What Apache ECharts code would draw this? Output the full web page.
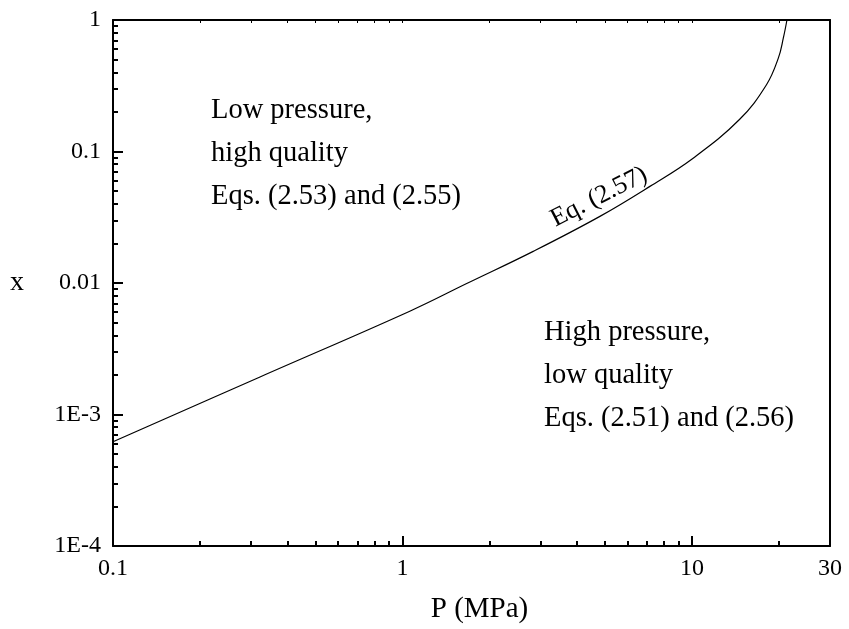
<!DOCTYPE html>
<html>
<head>
<meta charset="utf-8">
<script src="https://cdn.jsdelivr.net/npm/echarts@6/dist/echarts.min.js"></script>
<style>html,body{margin:0;padding:0;background:#fff;}#c{width:849px;height:629px;}</style>
</head>
<body>
<div id="c"></div>
<script>
// ---- data ----
const pressure = [0.1, 0.322, 1.06, 1.667, 2.83, 4.81, 7.16, 10.1, 14.6, 18.1, 19.9, 20.7, 21.3];
const quality  = [6.2e-4, 1.93e-3, 6.1e-3, 9.9e-3, 0.0174, 0.0321, 0.0543, 0.089, 0.175, 0.322, 0.515, 0.73, 1.0];

const xTickValues = [0.1, 1, 10, 30];
const xTickLabels = ['0.1', '1', '10', '30'];
const xMajorTicks = [0.1, 1, 10];
const xMinorTicks = [0.2,0.3,0.4,0.5,0.6,0.7,0.8,0.9,2,3,4,5,6,7,8,9,20];

const yTickValues = [1e-4, 1e-3, 0.01, 0.1, 1];
const yTickLabels = ['1E-4', '1E-3', '0.01', '0.1', '1'];
const yMinorTicks = [];
[1e-4, 1e-3, 0.01, 0.1].forEach(d => { for (let k = 2; k <= 9; k++) yMinorTicks.push(d * k); });

const xMin = 0.1, xMax = 30, yMin = 1e-4, yMax = 1;

// ---- build ----
const L = v => Math.log10(v);
const FONT = 'Liberation Serif';
const gridRect = { left: 113, top: 20, width: 717, height: 526 };

function labelFor(values, labels) {
  return function (v) {
    let best = 0, bd = Infinity;
    values.forEach((t, i) => { const d = Math.abs(L(t) - v); if (d < bd) { bd = d; best = i; } });
    return labels[best];
  };
}

const lineStyle = { color: '#000', width: 2 };

const option = {
  backgroundColor: '#fff',
  animation: false,
  grid: [
    Object.assign({}, gridRect),
    Object.assign({}, gridRect),
    Object.assign({}, gridRect)
  ],
  xAxis: [
    { type: 'log', logBase: 10, gridIndex: 0, min: xMin, max: xMax, show: false },
    { type: 'value', gridIndex: 1, position: 'bottom', min: L(xMin), max: L(xMax),
      axisLine: { show: true, onZero: false, lineStyle: lineStyle },
      axisTick: { show: true, inside: true, length: 10, lineStyle: { color: '#000', width: 2 },
                  customValues: xMajorTicks.map(L) },
      axisLabel: { show: true, margin: 11, color: '#000', fontFamily: FONT, fontSize: 24,
                   customValues: xTickValues.map(L), formatter: labelFor(xTickValues, xTickLabels) },
      splitLine: { show: false },
      name: 'P (MPa)', nameLocation: 'middle', nameGap: 49,
      nameTextStyle: { color: '#000', fontFamily: FONT, fontSize: 29, padding: [0, 0, 0, 16] } },
    { type: 'value', gridIndex: 1, position: 'top', min: L(xMin), max: L(xMax),
      axisLine: { show: true, onZero: false, lineStyle: lineStyle },
      axisTick: { show: true, inside: true, length: 3, lineStyle: { color: '#000', width: 1 },
                  customValues: xMinorTicks.concat(xMajorTicks).map(L) },
      axisLabel: { show: false }, splitLine: { show: false } },
    { type: 'value', gridIndex: 2, position: 'bottom', min: L(xMin), max: L(xMax),
      axisLine: { show: false, onZero: false },
      axisTick: { show: true, inside: true, length: 5, lineStyle: { color: '#000', width: 2 },
                  customValues: xMinorTicks.map(L) },
      axisLabel: { show: false }, splitLine: { show: false } }
  ],
  yAxis: [
    { type: 'log', logBase: 10, gridIndex: 0, min: yMin, max: yMax, show: false },
    { type: 'value', gridIndex: 1, position: 'left', min: L(yMin), max: L(yMax),
      axisLine: { show: true, onZero: false, lineStyle: lineStyle },
      axisTick: { show: true, inside: true, length: 10, lineStyle: { color: '#000', width: 2 },
                  customValues: yTickValues.map(L) },
      axisLabel: { show: true, margin: 12, color: '#000', fontFamily: FONT, fontSize: 24,
                   customValues: yTickValues.map(L), formatter: labelFor(yTickValues, yTickLabels) },
      splitLine: { show: false },
      name: 'x', nameLocation: 'middle', nameRotate: 0, nameGap: 89,
      nameTextStyle: { color: '#000', fontFamily: FONT, fontSize: 28 } },
    { type: 'value', gridIndex: 1, position: 'right', min: L(yMin), max: L(yMax),
      axisLine: { show: true, onZero: false, lineStyle: lineStyle },
      axisTick: { show: false }, axisLabel: { show: false }, splitLine: { show: false } },
    { type: 'value', gridIndex: 2, position: 'left', min: L(yMin), max: L(yMax),
      axisLine: { show: false, onZero: false },
      axisTick: { show: true, inside: true, length: 5, lineStyle: { color: '#000', width: 2 },
                  customValues: yMinorTicks.map(L) },
      axisLabel: { show: false }, splitLine: { show: false } }
  ],
  series: [
    { type: 'line', xAxisIndex: 0, yAxisIndex: 0,
      data: pressure.map((p, i) => [p, quality[i]]),
      smooth: 0.4, showSymbol: false, symbol: 'none',
      lineStyle: { color: '#000', width: 1.2 } }
  ],
  graphic: [
    { type: 'text', left: 211, top: 89,
      style: { text: 'Low pressure,\nhigh quality\nEqs. (2.53) and (2.55)',
               font: '28.5px "Liberation Serif"', lineHeight: 43, fill: '#000' } },
    { type: 'text', left: 544, top: 311,
      style: { text: 'High pressure,\nlow quality\nEqs. (2.51) and (2.56)',
               font: '28.5px "Liberation Serif"', lineHeight: 43, fill: '#000' } },
    { type: 'text', x: 599, y: 197, rotation: 27 * Math.PI / 180,
      style: { text: 'Eq. (2.57)', font: '26px "Liberation Serif"', fill: '#000',
               align: 'center', verticalAlign: 'middle' } }
  ]
};

echarts.init(document.getElementById('c')).setOption(option);
</script>
</body>
</html>
